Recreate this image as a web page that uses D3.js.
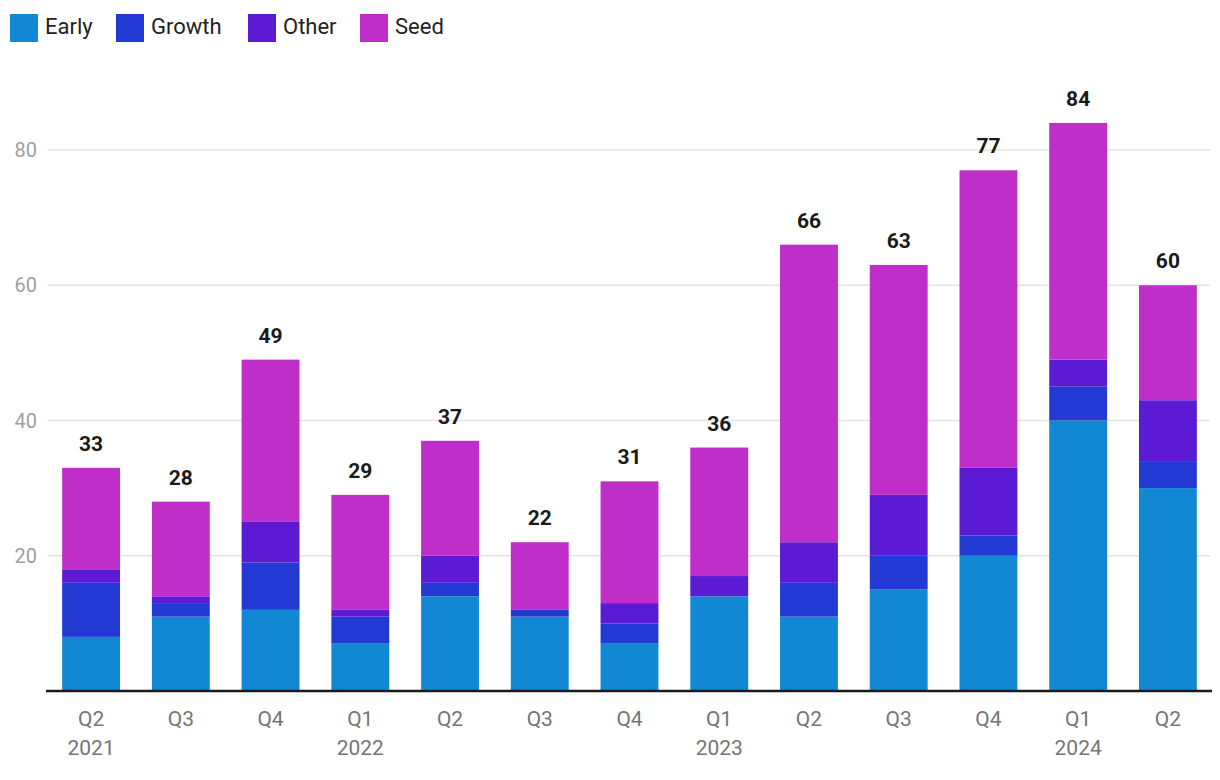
<!DOCTYPE html>
<html><head><meta charset="utf-8">
<script src="https://cdn.jsdelivr.net/npm/d3@7"></script>
<style>body{margin:0;background:#fff;font-family:Roboto,sans-serif;}</style>
</head><body>
<svg id="chart" width="1220" height="780"></svg>
<script>
const quarters = ["Q2","Q3","Q4","Q1","Q2","Q3","Q4","Q1","Q2","Q3","Q4","Q1","Q2"];
const years    = ["2021","","","2022","","","","2023","","","","2024",""];
const early  = [8,11,12,7,14,11,7,14,11,15,20,40,30];
const growth = [8,2,7,4,2,1,3,0,5,5,3,5,4];
const other  = [2,1,6,1,4,0,3,3,6,9,10,4,9];
const seed   = [15,14,24,17,17,10,18,19,44,34,44,35,17];
const seriesNames = ["Early","Growth","Other","Seed"];
const colors = ["#1288d4","#2339d4","#5b1bd4","#c02ec9"];
const yTicks = [20,40,60,80];

const svg = d3.select("#chart");
const rows = quarters.map((q,i)=>({i, Early:early[i], Growth:growth[i], Other:other[i], Seed:seed[i]}));
const stack = d3.stack().keys(seriesNames)(rows);

const x = d3.scaleBand().domain(d3.range(quarters.length)).range([46,1213]).paddingInner(0.355).paddingOuter(0.18);
const y = d3.scaleLinear().domain([0,80]).range([691,150]);

// gridlines
svg.append("g").selectAll("line").data(yTicks).join("line")
  .attr("x1",48).attr("x2",1210).attr("y1",d=>y(d)).attr("y2",d=>y(d))
  .attr("stroke","#e3e3e3").attr("stroke-width",1.5);
svg.append("g").selectAll("text").data(yTicks).join("text")
  .attr("x",37).attr("y",d=>y(d)).attr("dy","0.35em").attr("text-anchor","end")
  .attr("font-size",20).attr("fill","#9e9e9e").text(d=>d);

// bars
svg.append("g").selectAll("g").data(stack).join("g")
  .attr("fill",(d,i)=>colors[i])
  .selectAll("rect").data(d=>d).join("rect")
  .attr("x",d=>x(d.data.i)).attr("width",x.bandwidth())
  .attr("y",d=>y(d[1])).attr("height",d=>y(d[0])-y(d[1]));

// totals
svg.append("g").selectAll("text").data(rows).join("text")
  .attr("x",d=>x(d.i)+x.bandwidth()/2)
  .attr("y",d=>y(d.Early+d.Growth+d.Other+d.Seed)-17)
  .attr("text-anchor","middle").attr("font-size",21).attr("font-weight","bold").attr("fill","#1a1a1a")
  .text(d=>d.Early+d.Growth+d.Other+d.Seed);

// axis line
svg.append("line").attr("x1",46).attr("x2",1212).attr("y1",691).attr("y2",691)
  .attr("stroke","#1a1a1a").attr("stroke-width",2.5);

// x labels
const xl = svg.append("g").selectAll("g").data(quarters).join("g");
xl.append("text").attr("x",(d,i)=>x(i)+x.bandwidth()/2).attr("y",726)
  .attr("text-anchor","middle").attr("font-size",21).attr("fill","#757575").text(d=>d);
xl.append("text").attr("x",(d,i)=>x(i)+x.bandwidth()/2).attr("y",755)
  .attr("text-anchor","middle").attr("font-size",21).attr("fill","#757575").text((d,i)=>years[i]);

// legend
const legX = [10,116,248,360];
const leg = svg.append("g").selectAll("g").data(seriesNames).join("g")
  .attr("transform",(d,i)=>`translate(${legX[i]},14)`);
leg.append("rect").attr("width",28).attr("height",28).attr("fill",(d,i)=>colors[i]);
leg.append("text").attr("x",35).attr("y",12).attr("dy","0.35em").attr("font-size",22).attr("fill","#222").text(d=>d);
</script>
</body></html>
